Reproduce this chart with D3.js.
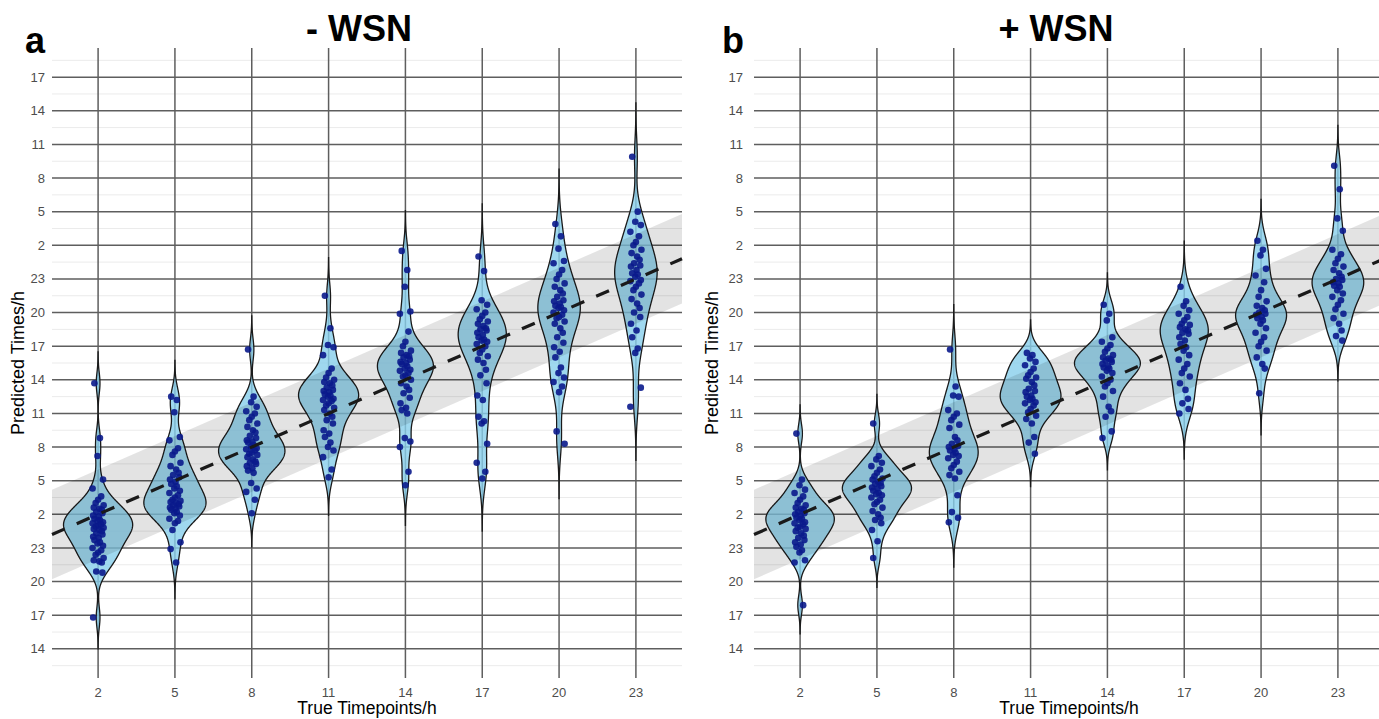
<!DOCTYPE html>
<html>
<head>
<meta charset="utf-8">
<script src="https://cdn.jsdelivr.net/npm/d3@7"></script>
<style>
body { margin: 0; background: #fff; }
text { font-family: "Liberation Sans", Arial, sans-serif; }
</style>
</head>
<body>
<div id="chart"></div>
<script>
var width = 1379, height = 719;

var timepoints = [2, 5, 8, 11, 14, 17, 20, 23];
var yTickValues = [-10, -7, -4, -1, 2, 5, 8, 11, 14, 17, 20, 23, 26, 29, 32, 35, 38, 41];
var yTickLabels = ["14", "17", "20", "23", "2", "5", "8", "11", "14", "17", "20", "23", "2", "5", "8", "11", "14", "17"];
var yDomain = [-12.6, 43.6];
var bandHalfWidth = 4;

var panelTitles = ["- WSN", "+ WSN"];
var panelLetters = ["a", "b"];

// predicted times (hours, continuous across midnight), - WSN
var minusT2 = [13.7, 8.8, 7.2, 5.1, 4.3, 3.6, 3.3, 3.0, 2.8, 2.6, 2.5, 2.4, 2.2, 2.1, 1.9, 1.8, 1.6, 1.5, 1.4, 1.3, 1.2, 1.1, 1.0, 0.9, 0.8, 0.7, 0.6, 0.5, 0.3, 0.2, 0.0, -0.1, -0.3, -0.5, -0.6, -0.8, -1.0, -1.2, -1.4, -1.6, -1.9, -2.1, -2.2, -2.3, -3.1, -3.2, -7.2];
var minusT5 = [12.5, 12.2, 11.1, 8.9, 8.6, 7.9, 7.6, 7.3, 6.6, 6.3, 6.0, 5.7, 5.5, 5.3, 5.1, 4.9, 4.7, 4.5, 4.3, 4.1, 3.9, 3.7, 3.5, 3.3, 3.2, 3.1, 3.0, 2.9, 2.8, 2.7, 2.6, 2.5, 2.4, 2.2, 2.1, 1.9, 1.6, 1.4, 1.2, 0.6, -0.5, -1.1, -2.3];
var minusT8 = [16.7, 12.5, 12.0, 11.6, 11.2, 11.0, 10.7, 10.4, 10.1, 9.8, 9.5, 9.3, 9.0, 8.8, 8.6, 8.5, 8.4, 8.2, 8.0, 7.9, 7.8, 7.7, 7.5, 7.4, 7.3, 7.1, 6.9, 6.7, 6.6, 6.5, 6.3, 6.1, 5.9, 5.7, 4.8, 4.3, 4.0, 3.3, 2.1];
var minusT11 = [21.5, 18.6, 17.1, 16.9, 16.2, 15.0, 14.6, 14.2, 14.0, 13.8, 13.7, 13.5, 13.3, 13.1, 13.0, 12.9, 12.7, 12.6, 12.5, 12.3, 12.2, 12.1, 11.9, 11.7, 11.5, 11.3, 11.0, 10.7, 10.4, 10.1, 9.5, 9.2, 8.9, 8.4, 8.0, 7.7, 7.1, 6.0, 5.3];
var minusT14 = [25.5, 23.8, 22.3, 20.1, 19.9, 18.3, 17.4, 17.0, 16.6, 16.4, 16.2, 16.1, 16.0, 15.8, 15.6, 15.5, 15.4, 15.2, 15.0, 14.9, 14.8, 14.6, 14.4, 14.3, 14.0, 13.7, 13.4, 13.1, 12.8, 12.4, 11.9, 11.5, 11.3, 11.0, 8.8, 8.5, 8.0, 5.8, 4.6];
var minusT17 = [25.0, 23.7, 21.1, 20.7, 20.3, 20.0, 19.7, 19.4, 19.2, 19.0, 18.8, 18.6, 18.5, 18.4, 18.2, 18.0, 17.8, 17.6, 17.5, 17.4, 17.2, 17.0, 16.7, 16.4, 16.1, 15.8, 15.5, 14.9, 14.4, 13.7, 12.6, 12.2, 10.7, 10.3, 10.1, 8.3, 6.6, 5.8, 5.2];
var minusT20 = [27.9, 26.8, 25.7, 24.6, 24.4, 23.8, 23.4, 23.0, 22.6, 22.3, 22.0, 21.7, 21.4, 21.1, 21.0, 20.8, 20.6, 20.5, 20.4, 20.2, 20.0, 19.8, 19.6, 19.5, 19.2, 19.0, 18.6, 18.2, 17.8, 17.3, 16.9, 16.5, 16.0, 15.1, 14.6, 14.2, 13.8, 13.4, 12.9, 9.4, 8.3];
var minusT23 = [33.9, 29.0, 28.1, 27.8, 27.2, 26.8, 26.3, 26.0, 25.6, 25.3, 25.0, 24.7, 24.4, 24.2, 24.1, 23.8, 23.5, 23.4, 23.2, 22.9, 22.8, 22.6, 22.3, 22.0, 21.6, 21.2, 20.8, 20.4, 20.0, 19.6, 19.0, 18.4, 17.8, 16.8, 16.4, 13.3, 11.6];

// + WSN
var plusT2 = [9.2, 5.1, 4.6, 4.2, 3.9, 3.6, 3.3, 3.0, 2.8, 2.6, 2.5, 2.4, 2.2, 2.1, 2.0, 1.9, 1.7, 1.6, 1.5, 1.3, 1.2, 1.1, 0.9, 0.8, 0.7, 0.5, 0.3, 0.1, -0.1, -0.3, -0.5, -0.7, -0.9, -1.2, -1.4, -2.1, -2.3, -6.1];
var plusT5 = [10.1, 7.2, 6.9, 6.6, 6.3, 6.0, 5.7, 5.4, 5.2, 5.1, 4.9, 4.8, 4.7, 4.5, 4.4, 4.3, 4.1, 3.9, 3.8, 3.7, 3.5, 3.3, 3.1, 2.9, 2.6, 2.3, 2.0, 1.7, 1.5, 1.2, 0.6, -0.4, -1.9];
var plusT8 = [16.7, 13.4, 12.6, 12.5, 11.3, 11.0, 10.7, 10.4, 10.0, 9.7, 8.9, 8.6, 8.3, 8.1, 8.0, 7.8, 7.7, 7.5, 7.3, 7.2, 7.0, 6.7, 6.4, 6.1, 5.8, 5.5, 5.2, 3.7, 2.2, 1.7, 1.3];
var plusT11 = [16.4, 16.2, 15.9, 15.6, 15.3, 15.0, 14.7, 14.4, 14.2, 14.1, 13.8, 13.5, 13.2, 13.0, 12.9, 12.6, 12.5, 12.3, 12.2, 12.0, 11.9, 11.7, 11.4, 11.1, 10.8, 10.5, 10.1, 8.9, 8.4, 7.4];
var plusT14 = [20.7, 19.9, 19.3, 17.8, 17.4, 17.1, 16.8, 16.5, 16.2, 16.0, 15.9, 15.8, 15.7, 15.6, 15.4, 15.2, 15.1, 15.0, 14.8, 14.6, 14.3, 14.0, 13.7, 13.4, 13.0, 12.5, 11.6, 11.2, 10.7, 9.4, 8.8];
var plusT17 = [22.3, 21.0, 20.6, 20.2, 19.9, 19.6, 19.3, 19.0, 18.9, 18.7, 18.5, 18.4, 18.2, 18.1, 17.8, 17.5, 17.2, 16.9, 16.6, 16.2, 15.8, 15.4, 15.0, 14.6, 14.3, 13.7, 13.1, 12.3, 11.9, 11.4, 11.0];
var plusT20 = [26.4, 25.6, 25.1, 23.9, 23.3, 22.7, 22.0, 21.4, 21.0, 20.6, 20.4, 20.2, 20.0, 19.9, 19.8, 19.6, 19.5, 19.3, 19.0, 18.6, 18.2, 17.8, 17.4, 17.0, 16.6, 16.0, 15.4, 15.0, 12.8];
var plusT23 = [33.1, 31.0, 28.4, 27.3, 25.6, 25.2, 24.8, 24.4, 24.1, 23.8, 23.5, 23.2, 23.0, 22.9, 22.7, 22.6, 22.4, 22.3, 22.0, 21.7, 21.4, 21.1, 20.7, 20.3, 19.9, 19.5, 19.0, 18.4, 17.9, 17.5];

var minusGroups = [minusT2, minusT5, minusT8, minusT11, minusT14, minusT17, minusT20, minusT23];
var plusGroups = [plusT2, plusT5, plusT8, plusT11, plusT14, plusT17, plusT20, plusT23];

// horizontal jitter pattern (fraction of the jitter width), cycled over the points
var jitterPattern = [-0.6, 0.3, -0.1, 0.8, -0.9, 0.5, 0.0, -0.4, 0.9, -0.7, 0.2, 0.6, -0.3, 0.7, -0.8, 0.1];

var svg = d3.select("#chart").append("svg")
    .attr("width", width).attr("height", height);

var panels = [
    {left: 52, right: 682, groups: minusGroups, title: panelTitles[0], letter: panelLetters[0], titleX: 359, letterX: 25, yLabX: 45, yTitleX: 17},
    {left: 754, right: 1384, groups: plusGroups, title: panelTitles[1], letter: panelLetters[1], titleX: 1056, letterX: 722, yLabX: 743, yTitleX: 711}
];
var plotTop = 48, plotBottom = 678;

function kde(values) {
    var sorted = values.slice().sort(d3.ascending);
    var n = values.length;
    var iqr = d3.quantile(sorted, 0.75) - d3.quantile(sorted, 0.25);
    var bw = 0.9 * Math.min(d3.deviation(values), iqr / 1.34) * Math.pow(n, -0.2);
    var lo = sorted[0] - 3 * bw, hi = sorted[n - 1] + 3 * bw;
    return d3.range(513).map(function(i) {
        var t = lo + (hi - lo) * i / 512;
        var d = d3.mean(values, function(v) { return Math.exp(-0.5 * Math.pow((t - v) / bw, 2)); }) / (bw * Math.sqrt(2 * Math.PI));
        return [t, d];
    });
}

var y = d3.scaleLinear().domain(yDomain).range([plotBottom, plotTop]);

panels.forEach(function(p) {
    var g = svg.append("g");
    var x = d3.scalePoint().domain(timepoints).range([p.left, p.right]).padding(0.6);
    var step = x.step();
    var xh = d3.scaleLinear().domain([timepoints[0], timepoints[timepoints.length - 1]])
        .range([x(timepoints[0]), x(timepoints[timepoints.length - 1])]);

    // minor grid
    var minor = d3.range(yTickValues.length + 1).map(function(i) { return yTickValues[0] - 1.5 + 3 * i; })
        .filter(function(v) { return v > yDomain[0] && v < yDomain[1]; });
    g.selectAll(".minor").data(minor).enter().append("line")
        .attr("x1", p.left).attr("x2", p.right)
        .attr("y1", function(d) { return y(d); }).attr("y2", function(d) { return y(d); })
        .attr("stroke", "#ebebeb").attr("stroke-width", 1);
    // major grid
    g.selectAll(".hmajor").data(yTickValues).enter().append("line")
        .attr("x1", p.left).attr("x2", p.right)
        .attr("y1", function(d) { return y(d); }).attr("y2", function(d) { return y(d); })
        .attr("stroke", "#5e5e5e").attr("stroke-width", 1.5);
    g.selectAll(".vmajor").data(timepoints).enter().append("line")
        .attr("x1", function(d) { return x(d); }).attr("x2", function(d) { return x(d); })
        .attr("y1", plotTop).attr("y2", plotBottom)
        .attr("stroke", "#5e5e5e").attr("stroke-width", 1.5);

    // violins
    var dens = p.groups.map(kde);
    var dmax = d3.max(dens, function(d) { return d3.max(d, function(e) { return e[1]; }); });
    var wScale = d3.scaleLinear().domain([0, dmax]).range([0, 0.45 * step]);
    dens.forEach(function(d, i) {
        var cx = x(timepoints[i]);
        g.append("path").datum(d)
            .attr("d", d3.area()
                .y(function(e) { return y(e[0]); })
                .x0(function(e) { return cx - wScale(e[1]); })
                .x1(function(e) { return cx + wScale(e[1]); }))
            .attr("fill", "#87CEEB").attr("fill-opacity", 0.8)
            .attr("stroke", "#1a1a1a").attr("stroke-width", 1.3);
    });

    // band around identity line
    var h0 = xh.invert(p.left), h1 = xh.invert(p.right);
    g.append("path")
        .datum([h0, h1])
        .attr("d", d3.area()
            .x(function(h) { return xh(h); })
            .y0(function(h) { return y(h - bandHalfWidth); })
            .y1(function(h) { return y(h + bandHalfWidth); }))
        .attr("fill", "#000").attr("fill-opacity", 0.11);

    // points
    p.groups.forEach(function(vals, i) {
        var cx = x(timepoints[i]);
        g.selectAll(null).data(vals).enter().append("circle")
            .attr("cx", function(d, j) { return cx + jitterPattern[j % jitterPattern.length] * 0.08 * step; })
            .attr("cy", function(d) { return y(d); })
            .attr("r", 3.3)
            .attr("fill", "#0a1a8c").attr("fill-opacity", 0.9);
    });

    // identity line
    g.append("line")
        .attr("x1", xh(h0)).attr("y1", y(h0))
        .attr("x2", xh(h1)).attr("y2", y(h1))
        .attr("stroke", "#1a1a1a").attr("stroke-width", 3.2)
        .attr("stroke-dasharray", "14,13");

    // axes labels
    g.selectAll(".ylab").data(yTickValues).enter().append("text")
        .attr("x", p.yLabX).attr("y", function(d) { return y(d); })
        .attr("dy", "0.35em").attr("text-anchor", "end")
        .attr("font-size", 13).attr("fill", "#4d4d4d")
        .text(function(d, i) { return yTickLabels[i]; });
    g.selectAll(".xlab").data(timepoints).enter().append("text")
        .attr("x", function(d) { return x(d); }).attr("y", 697)
        .attr("text-anchor", "middle")
        .attr("font-size", 13).attr("fill", "#4d4d4d")
        .text(function(d) { return d; });
    g.append("text")
        .attr("x", (p.left + p.right) / 2).attr("y", 714)
        .attr("text-anchor", "middle").attr("font-size", 17.5).attr("fill", "#000")
        .text("True Timepoints/h");
    g.append("text")
        .attr("transform", "translate(" + (p.yTitleX + 7) + "," + ((plotTop + plotBottom) / 2) + ") rotate(-90)")
        .attr("text-anchor", "middle").attr("font-size", 18).attr("fill", "#000")
        .text("Predicted Times/h");
    g.append("text")
        .attr("x", p.titleX).attr("y", 41)
        .attr("text-anchor", "middle").attr("font-size", 36).attr("font-weight", "bold")
        .text(p.title);
    g.append("text")
        .attr("x", p.letterX).attr("y", 53)
        .attr("font-size", 36).attr("font-weight", "bold")
        .text(p.letter);
});
</script>
</body>
</html>
